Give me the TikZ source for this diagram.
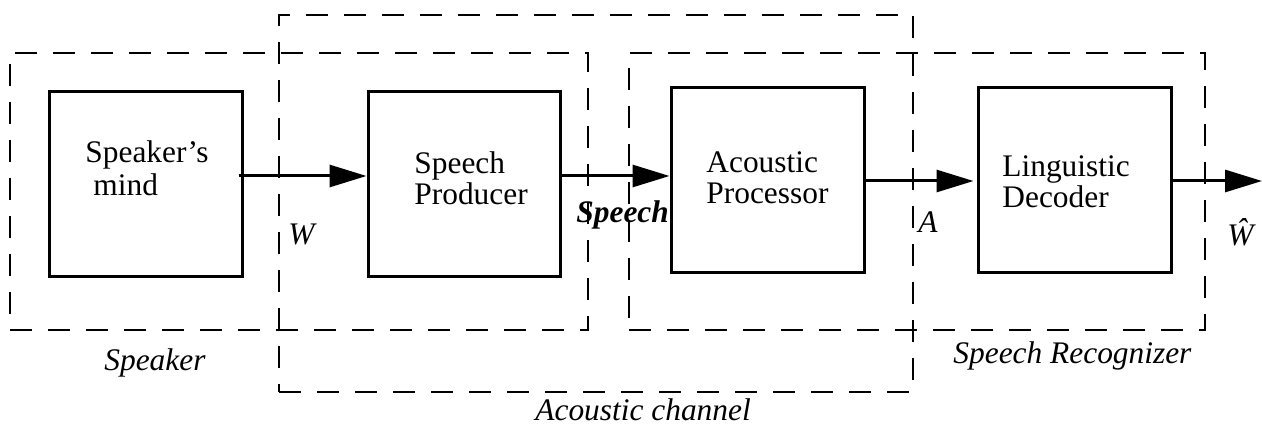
\documentclass[tikz,border=0pt]{standalone}
\usepackage{fontspec}
\setmainfont{Liberation Serif}
\usetikzlibrary{arrows.meta,fit}
\begin{document}
\begin{tikzpicture}[x=0.5pt,y=-0.5pt,
  blockbox/.style={draw,line width=1.5pt,inner sep=0pt},
  groupbox/.style={draw,line width=0.9pt,dash pattern=on 11pt off 8pt,inner sep=0pt},
  boxtext/.style={anchor=north west,inner sep=0pt,align=left,font=\fontsize{15.7}{15.5}\selectfont},
  itlabel/.style={anchor=base west,inner sep=0pt,font=\fontsize{15.7}{18}\selectfont\itshape},
  flow/.style={line width=1.5pt,-{Triangle[length=18.5pt,width=11pt]}}]
\useasboundingbox (0,0) rectangle (1262,427);
% group boxes
\node[groupbox,fit={(10,53) (588,330)}] (speakergrp) {};
\node[groupbox,fit={(279,15) (913,392)}] (channelgrp) {};
\node[groupbox,fit={(629,53) (1205,330)}] (recoggrp) {};
% blocks
\node[blockbox,fit={(49,92) (242,276)}] (mind) {};
\node[blockbox,fit={(368,92) (560,276)}] (prod) {};
\node[blockbox,fit={(671,88) (864,272)}] (proc) {};
\node[blockbox,fit={(978,88) (1171,272)}] (dec) {};
% block texts
\node[boxtext,font=\fontsize{15.7}{16.5}\selectfont] (mindtxt) at (85,140.6) {Speaker’s\\\hspace*{4pt}mind};
\node[boxtext] (prodtxt) at (414,151.6) {Speech\\Producer};
\node[boxtext] (proctxt) at (706,151.6) {Acoustic\\Processor};
\node[boxtext] (dectxt) at (1002,155.6) {Linguistic\\Decoder};
% connectors
\coordinate (outW) at (1262,181);
\draw[flow] ([shift={(-5,-8)}]mind.east) -- ([shift={(0,-8)}]prod.west);
\draw[flow] ([shift={(0,-8)}]prod.east) -- ([shift={(0,-4)}]proc.west);
\draw[flow] ([shift={(0,1)}]proc.east) -- ([shift={(-3,1)}]dec.west);
\draw[flow] ([shift={(0,1)}]dec.east) -- (outW);
% labels
\node[itlabel] (lblW) at (288,244) {W};
\node[itlabel,font=\fontsize{15.7}{18}\selectfont\bfseries\itshape] (lblSpeech) at (576,222) {Speech};
\node[itlabel] (lblA) at (918,233) {A};
\node[itlabel] (lblWhat) at (1227,245) {Ŵ};
\node[itlabel] (lblSpeaker) at (104,370) {Speaker};
\node[itlabel] (lblChannel) at (535,420) {Acoustic channel};
\node[itlabel] (lblRecog) at (953,363) {Speech Recognizer};
\end{tikzpicture}
\end{document}
